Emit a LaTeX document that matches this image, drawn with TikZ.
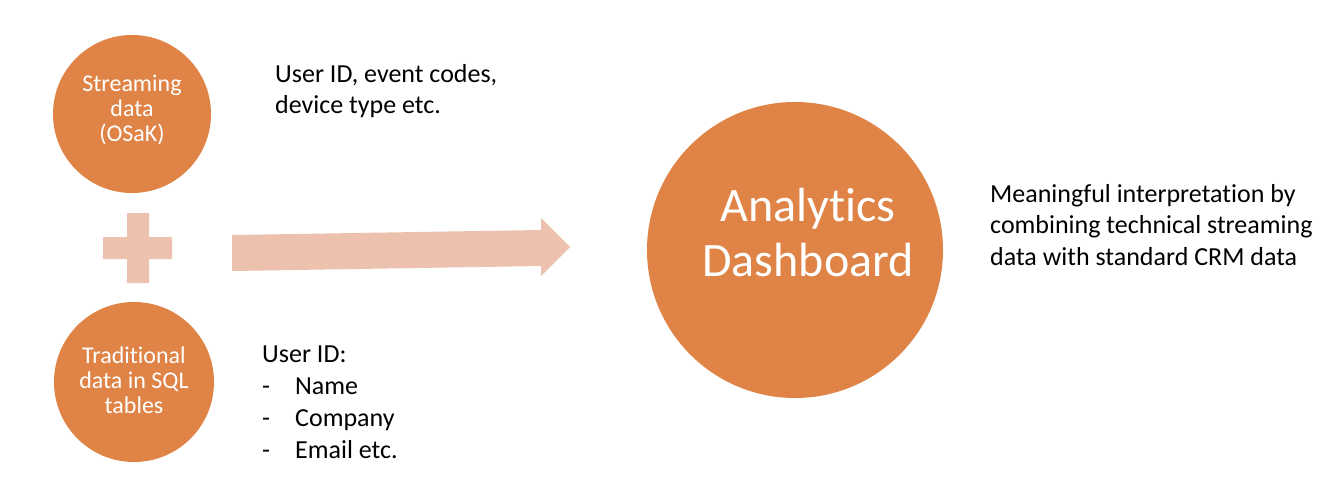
\documentclass[tikz,border=0pt]{standalone}
\usepackage{fontspec}
\setmainfont{Carlito}[Ligatures=NoCommon]
\definecolor{circfill}{RGB}{223,132,70}
\definecolor{peach}{RGB}{236,194,174}
\begin{document}
\begin{tikzpicture}[x=1pt,y=-1pt,
  smallcirc/.style={circle,fill=circfill,draw=none,minimum size=#1,inner sep=0pt},
  circtext/.style={text=white,align=center,font=\fontsize{24}{25}\selectfont,inner sep=0pt},
  bigtext/.style={text=white,align=center,font=\fontsize{48}{55}\selectfont,inner sep=0pt},
  note/.style={text=black,align=left,anchor=north west,inner sep=0pt,font=\fontsize{26}{31.5}\selectfont},
  shapefill/.style={fill=peach,draw=none}]
\useasboundingbox (0,0) rectangle (1330,484);
\fill[white] (0,0) rectangle (1330,484);
% circles
\node[smallcirc=158pt] (stream) at (132,114) {};
\node[circtext] (streamlbl) at (132,110) {Streaming\\data\\(OSaK)};
\node[smallcirc=160pt] (trad) at (134,382) {};
\node[circtext] (tradlbl) at (134,380) {Traditional\\data in SQL\\tables};
\node[smallcirc=296pt] (dash) at (795,250) {};
\node[bigtext] (dashlbl) at (808,233) {Analytics\\Dashboard};
% plus sign
\fill[shapefill] (127,213) -- (149,213) -- (149,237) -- (172,237) -- (172,259) -- (149,259) -- (149,283) -- (127,283) -- (127,259) -- (103,259) -- (103,237) -- (127,237) -- cycle;
% block arrow
\fill[shapefill] (232,235) -- (541,230) -- (541,218) -- (570,247) -- (541,276) -- (541,266) -- (232,271) -- cycle;
% notes
\node[note] (streamnote) at (275,64) {User ID, event codes,\\device type etc.};
\node[note,font=\fontsize{26}{32}\selectfont] (tradnote) at (262,346) {User ID:\\\makebox[33pt][l]{-}Name\\\makebox[33pt][l]{-}Company\\\makebox[33pt][l]{-}Email etc.};
\node[note] (dashnote) at (990,184) {Meaningful interpretation by\\combining technical streaming\\data with standard CRM data};
\end{tikzpicture}
\end{document}
